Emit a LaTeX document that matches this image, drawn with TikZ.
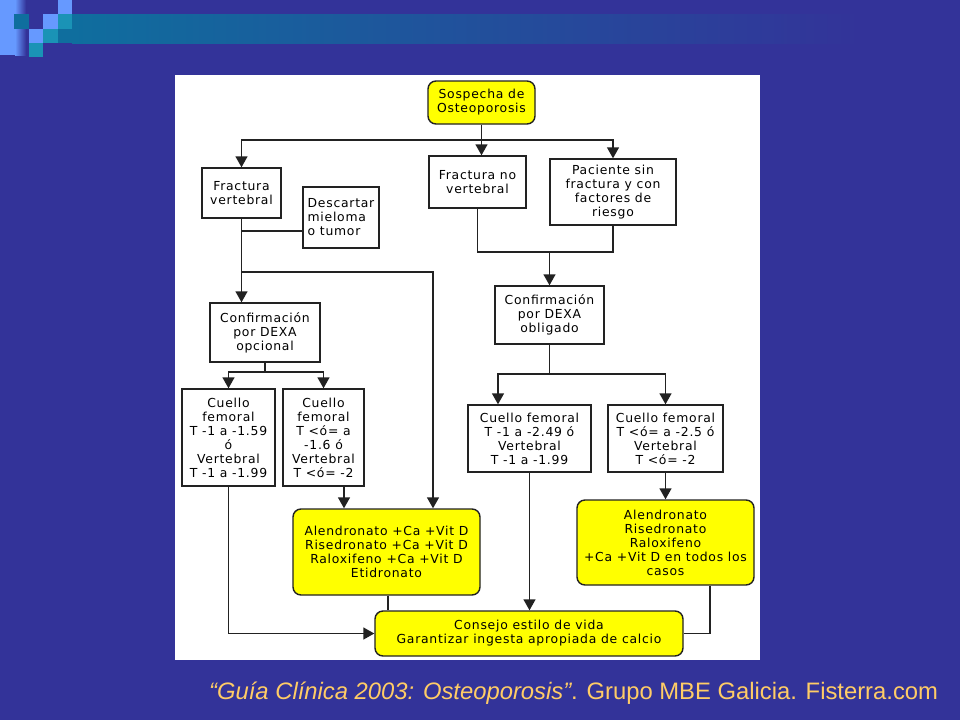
\documentclass[tikz,border=0pt]{standalone}
\usepackage{fontspec}
\setmainfont{Liberation Sans}
\newfontfamily\fc[LetterSpace=6]{DejaVu Sans}
\usetikzlibrary{arrows.meta}
\definecolor{bg}{HTML}{333399}
\definecolor{lblue}{HTML}{6699FF}
\definecolor{teal1}{HTML}{1A93B6}
\definecolor{teal2}{HTML}{0F6E9E}
\definecolor{yel}{HTML}{FFFF00}
\definecolor{lineC}{HTML}{222222}
\definecolor{capC}{HTML}{FFCC66}
\tikzset{
  box/.style={draw=lineC, line width=1.4pt, fill=white, inner sep=0pt, align=center,
    font=\fc\fontsize{12.4}{14}\selectfont},
  ybox/.style={box, fill=yel, rounded corners=8pt},
  conn/.style={line width=1.4pt, draw=lineC},
  arr/.style={conn, -{Triangle[width=12pt,length=11pt]}},
}
\begin{document}
\begin{tikzpicture}[x=1pt,y=-1pt]
\useasboundingbox (0,0) rectangle (960,720);
\fill[bg] (0,0) rectangle (960,720);
% decoration
\shade[left color=teal2, right color=bg] (72,14) rectangle (860,43);
\fill[lblue] (0,0) rectangle (15,55);
\shade[left color=lblue, right color=bg] (15,0) rectangle (26,55);
\fill[teal2] (14,14) rectangle (29,29);
\fill[lblue] (58,0) rectangle (72,14);
\fill[lblue] (43,14) rectangle (58,29);
\fill[teal1] (58,14) rectangle (72,29);
\fill[teal2] (58,29) rectangle (72,43);
\fill[lblue] (29,29) rectangle (43,43);
\fill[teal1] (43,29) rectangle (58,43);
\fill[teal1] (29,43) rectangle (43,57);
% panel
\fill[white] (175,75) rectangle (760,660);
% nodes
\node[ybox, minimum width=107pt, minimum height=43pt] (sos) at (481.5,102.5) {Sospecha de\\Osteoporosis};
\node[box, minimum width=79pt, minimum height=50pt] (fv) at (241.5,193) {Fractura\\vertebral};
\node[box, minimum width=76pt, minimum height=61pt, align=left] (desc) at (341,217.5) {Descartar\\mieloma\\o tumor};
\node[box, minimum width=97pt, minimum height=52pt] (fnv) at (477.5,182) {Fractura no\\vertebral};
\node[box, minimum width=126pt, minimum height=66pt] (pac) at (613,192) {Paciente sin\\fractura y con\\factores de\\riesgo};
\node[box, minimum width=110pt, minimum height=59pt] (dexa1) at (265,332.5) {Confirmación\\por DEXA\\opcional};
\node[box, minimum width=109pt, minimum height=58pt] (dexa2) at (549.5,315) {Confirmación\\por DEXA\\obligado};
\node[box, minimum width=93pt, minimum height=97pt] (c1) at (228.5,437.5) {Cuello\\femoral\\T -1 a -1.59\\ó\\Vertebral\\T -1 a -1.99};
\node[box, minimum width=81pt, minimum height=97pt] (c2) at (323.5,437.5) {Cuello\\femoral\\T <ó= a\\-1.6 ó\\Vertebral\\T <ó= -2};
\node[box, minimum width=123pt, minimum height=67pt] (c3) at (529.5,438.5) {Cuello femoral\\T -1 a -2.49 ó\\Vertebral\\T -1 a -1.99};
\node[box, minimum width=115pt, minimum height=67pt] (c4) at (665.5,438.5) {Cuello femoral\\T <ó= a -2.5 ó\\Vertebral\\T <ó= -2};
\node[ybox, minimum width=187pt, minimum height=86pt] (alen) at (386.5,552) {Alendronato +Ca +Vit D\\Risedronato +Ca +Vit D\\Raloxifeno +Ca +Vit D\\Etidronato};
\node[ybox, minimum width=177pt, minimum height=85pt] (alen2) at (665.5,542.5) {Alendronato\\Risedronato\\Raloxifeno\\+Ca +Vit D en todos los\\casos};
\node[ybox, minimum width=308pt, minimum height=45pt] (cons) at (529,633.5) {Consejo estilo de vida\\Garantizar ingesta apropiada de calcio};
% helper coordinates
\coordinate (y140) at (0,140);
\coordinate (y231) at (0,231);
\coordinate (y272) at (0,272);
\coordinate (y372) at (0,372);
\coordinate (y252) at (0,252);
\coordinate (y374) at (0,374);
\coordinate (x433) at (433,0);
\coordinate (x344) at (344,0);
\coordinate (x498) at (498,0);
\coordinate (x388) at (388,0);
\coordinate (x710) at (710,0);
% connectors
\draw[arr] (sos.south) -- (sos.south |- fnv.north);
\draw[arr] (sos.south |- y140) -| (fv.north);
\draw[arr] (sos.south |- y140) -| (pac.north);
\draw[arr] (fv.south) -- (fv.south |- dexa1.north);
\draw[conn] (fv.south |- y231) -- (desc.west |- y231);
\draw[arr] (fv.south |- y272) -| (x433 |- alen.north);
\draw[conn] (dexa1.south) -- (dexa1.south |- y372);
\draw[arr] (dexa1.south |- y372) -| (c1.north);
\draw[arr] (dexa1.south |- y372) -| (c2.north);
\draw[arr] (c1.south) |- (cons.west);
\draw[arr] (x344 |- c2.south) -- (x344 |- alen.north);
\draw[conn] (fnv.south) |- (pac.south |- y252) -- (pac.south);
\draw[arr] (dexa2.north |- y252) -- (dexa2.north);
\draw[conn] (dexa2.south) -- (dexa2.south |- y374);
\draw[arr] (dexa2.south |- y374) -| (x498 |- c3.north);
\draw[arr] (dexa2.south |- y374) -| (c4.north);
\draw[arr] (c3.south) -- (c3.south |- cons.north);
\draw[arr] (c4.south) -- (alen2.north);
\draw[conn] (x388 |- alen.south) -- (x388 |- cons.north);
\draw[conn] (x710 |- alen2.south) |- (cons.east);
% caption
\node[anchor=base west, inner sep=0pt, text=capC, font=\fontsize{23.8}{26}\selectfont] (cap) at (209,699)
  {\itshape “Guía Clínica 2003: Osteoporosis”\upshape. Grupo MBE Galicia. Fisterra.com};
\end{tikzpicture}
\end{document}
